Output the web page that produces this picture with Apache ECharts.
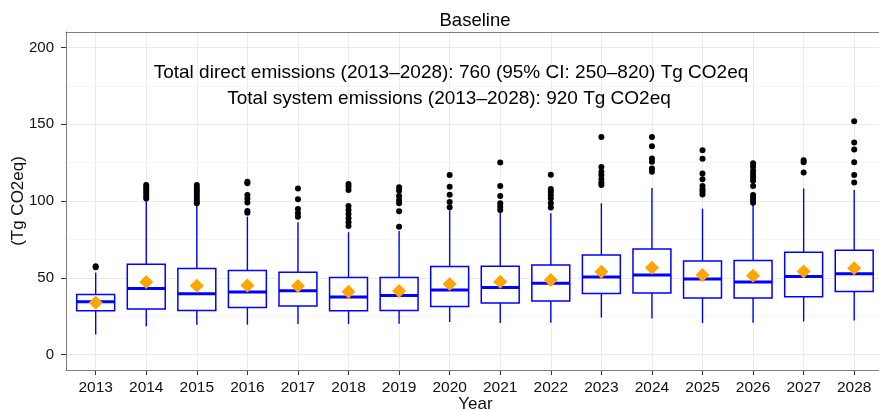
<!DOCTYPE html>
<html><head><meta charset="utf-8">
<script src="https://cdn.jsdelivr.net/npm/echarts@6/dist/echarts.min.js"></script>
<style>html,body{margin:0;padding:0;background:#fff}#c{width:879px;height:411px}</style>
</head><body><div id="c"></div>
<script>
const years = ['2013','2014','2015','2016','2017','2018','2019','2020','2021','2022','2023','2024','2025','2026','2027','2028'];
const whiskerLow  = [13.1, 18.4, 19.5, 19.5, 19.9, 19.9, 20.1, 21.2, 20.6, 20.8, 24.2, 23.6, 20.6, 20.8, 21.6, 22.3];
const q1          = [28.6, 29.7, 28.8, 30.7, 31.6, 28.6, 28.8, 31.4, 33.6, 34.9, 39.8, 40.1, 36.8, 36.8, 37.7, 41.1];
const median      = [34.5, 43.0, 39.6, 40.7, 41.6, 37.5, 38.5, 42.0, 43.7, 46.5, 50.6, 51.9, 49.2, 47.2, 50.8, 52.6];
const q3          = [39.2, 58.9, 56.0, 54.7, 53.7, 50.2, 50.2, 57.3, 57.5, 58.4, 64.9, 68.8, 61.0, 61.2, 66.7, 68.0];
const whiskerHigh = [53.4, 100.5, 96.8, 89.8, 86.2, 79.7, 80.5, 94.0, 92.4, 92.0, 98.5, 108.4, 95.0, 97.4, 108.2, 107.1];
const means       = [33.8, 47.2, 44.8, 45.0, 44.6, 40.9, 41.4, 45.9, 47.4, 48.5, 53.9, 56.5, 51.9, 51.3, 54.1, 56.3];
const outliers = [
  [56.8, 57.6],
  [101.7, 103, 104.5, 106, 107.5, 109, 110.4],
  [98.5, 100.2, 101.9, 103.6, 105.3, 107, 108.7, 110.4],
  [92.4, 93.5, 99.1, 101.5, 103.9, 111.5, 112.5],
  [89.8, 92.0, 94.8, 101.1, 108.2],
  [83.8, 86.2, 88.8, 91.6, 94.2, 96.8, 107.1, 109.3, 111.0],
  [83.3, 93.3, 98.5, 100.6, 103.2, 106.7, 108.9],
  [95.9, 99.4, 104.1, 109.3, 116.9],
  [94.2, 96.3, 98.5, 103.2, 109.7, 125.1],
  [95.7, 98.5, 101.7, 103.9, 106.1, 107.8, 117.1],
  [110.4, 112.1, 114.3, 116.9, 119.0, 122.1, 141.7],
  [119.0, 121.2, 125.5, 127.7, 135.7, 141.7],
  [104.3, 106.1, 107.6, 109.7, 114.1, 117.9, 127.5, 133.1],
  [98.9, 100.6, 102.1, 103.9, 109.7, 113.2, 115.4, 117.5, 119.7, 122.3, 124.5],
  [118.6, 125.3, 126.6],
  [112.1, 116.9, 125.3, 133.6, 138.1, 151.9]
];
const yTicks = [0, 50, 100, 150, 200];
const yMin = -10, yMax = 210;
const titleText = 'Baseline';
const xTitle = 'Year';
const yTitle = '(Tg CO2eq)';
const note1 = 'Total direct emissions (2013\u20132028): 760 (95% CI: 250\u2013820) Tg CO2eq';
const note2 = 'Total system emissions (2013\u20132028): 920 Tg CO2eq';

const FONT = '"Liberation Sans", Arial, Helvetica, sans-serif';
const boxData = years.map((y, i) => [i, whiskerLow[i], q1[i], median[i], q3[i], whiskerHigh[i]]);
const outlierData = [];
outliers.forEach((arr, i) => arr.forEach(v => outlierData.push([i, v])));
const meanData = means.map((v, i) => [i, v]);

const BLUE = '#0000ff';
const chart = echarts.init(document.getElementById('c'), null, {renderer: 'canvas'});
chart.setOption({
  animation: false,
  backgroundColor: '#fff',
  textStyle: {fontFamily: FONT},
  grid: [
    {left: 66, top: 32, width: 819, height: 338, show: false, containLabel: false, outerBoundsMode: 'none'},
    {left: 70.4, top: 32, width: 809.1, height: 338, show: false, containLabel: false, outerBoundsMode: 'none'}
  ],
  xAxis: [
    {gridIndex: 0, type: 'value', min: 0, max: 1, position: 'bottom', z: 5,
     axisLine: {show: true, onZero: false, lineStyle: {color: '#7f7f7f', width: 1}},
     axisTick: {show: false}, axisLabel: {show: false}, splitLine: {show: false},
     name: xTitle, nameLocation: 'middle', nameGap: 26, nameMoveOverlap: false,
     nameTextStyle: {fontSize: 17, color: '#111', fontFamily: FONT}},
    {gridIndex: 0, type: 'value', min: 0, max: 1, position: 'top', z: 5,
     axisLine: {show: true, onZero: false, lineStyle: {color: '#7f7f7f', width: 1}},
     axisTick: {show: false}, axisLabel: {show: false}, splitLine: {show: false}},
    {gridIndex: 1, type: 'category', data: years, boundaryGap: true, position: 'bottom',
     axisLine: {show: false, onZero: false},
     axisTick: {show: true, alignWithLabel: true, length: 5, lineStyle: {color: '#333', width: 1}},
     axisLabel: {fontSize: 15.5, color: '#111', margin: 10, fontFamily: FONT},
     splitLine: {show: false}},
    {gridIndex: 1, type: 'category', data: years, boundaryGap: true, position: 'top', z: 0,
     axisLine: {show: false, onZero: false},
     axisTick: {show: true, inside: true, alignWithLabel: true, length: 338, lineStyle: {color: '#ebebeb', width: 1}},
     axisLabel: {show: false}, splitLine: {show: false}}
  ],
  yAxis: [
    {gridIndex: 0, type: 'value', min: yMin, max: yMax, z: 0,
     axisLine: {show: true, onZero: false, lineStyle: {color: '#7f7f7f', width: 1}},
     axisTick: {show: true, length: 5, customValues: yTicks, lineStyle: {color: '#333', width: 1}},
     axisLabel: {fontSize: 15, color: '#111', margin: 12, customValues: yTicks, fontFamily: FONT},
     splitLine: {show: true, lineStyle: {color: '#ebebeb', width: 1}},
     minorTick: {show: false, splitNumber: 2},
     minorSplitLine: {show: true, lineStyle: {color: '#f6f6f6', width: 1}},
     name: yTitle, nameLocation: 'middle', nameGap: 39, nameRotate: 90, nameMoveOverlap: false,
     nameTextStyle: {fontSize: 17, color: '#111', fontFamily: FONT}},
    {gridIndex: 1, type: 'value', min: yMin, max: yMax, show: false}
  ],
  graphic: {elements: [
    {type: 'text', z: 20, x: 475, y: 21, style: {text: titleText, font: '18.5px ' + FONT, fill: '#000', align: 'center', verticalAlign: 'middle'}},
    {type: 'text', z: 20, x: 451, y: 73, style: {text: note1, font: '19px ' + FONT, fill: '#000', align: 'center', verticalAlign: 'middle'}},
    {type: 'text', z: 20, x: 449, y: 99, style: {text: note2, font: '19px ' + FONT, fill: '#000', align: 'center', verticalAlign: 'middle'}}
  ]},
  series: [
    {type: 'custom', xAxisIndex: 2, yAxisIndex: 1, z: 2, data: boxData,
     encode: {x: 0, y: [1, 2, 3, 4, 5]},
     renderItem: function (params, api) {
       const x = api.value(0);
       const pLow = api.coord([x, api.value(1)]);
       const pQ1 = api.coord([x, api.value(2)]);
       const pMed = api.coord([x, api.value(3)]);
       const pQ3 = api.coord([x, api.value(4)]);
       const pHigh = api.coord([x, api.value(5)]);
       const w = api.size([1, 0])[0] * 0.75;
       const cx = pMed[0];
       return {type: 'group', children: [
         {type: 'line', shape: {x1: cx, y1: pLow[1], x2: cx, y2: pQ1[1]}, style: {stroke: BLUE, lineWidth: 1.4}},
         {type: 'line', shape: {x1: cx, y1: pQ3[1], x2: cx, y2: pHigh[1]}, style: {stroke: BLUE, lineWidth: 1.4}},
         {type: 'rect', shape: {x: cx - w / 2, y: pQ3[1], width: w, height: pQ1[1] - pQ3[1]}, style: {fill: '#fff', stroke: BLUE, lineWidth: 1.5}},
         {type: 'line', shape: {x1: cx - w / 2, y1: pMed[1], x2: cx + w / 2, y2: pMed[1]}, style: {stroke: BLUE, lineWidth: 3}}
       ]};
     }},
    {type: 'scatter', xAxisIndex: 2, yAxisIndex: 1, z: 3, data: outlierData,
     symbol: 'circle', symbolSize: 6, itemStyle: {color: '#000', opacity: 1}},
    {type: 'scatter', xAxisIndex: 2, yAxisIndex: 1, z: 4, data: meanData,
     symbol: 'diamond', symbolSize: 14, itemStyle: {color: '#ffa500', opacity: 1}}
  ]
});
</script>
</body></html>
